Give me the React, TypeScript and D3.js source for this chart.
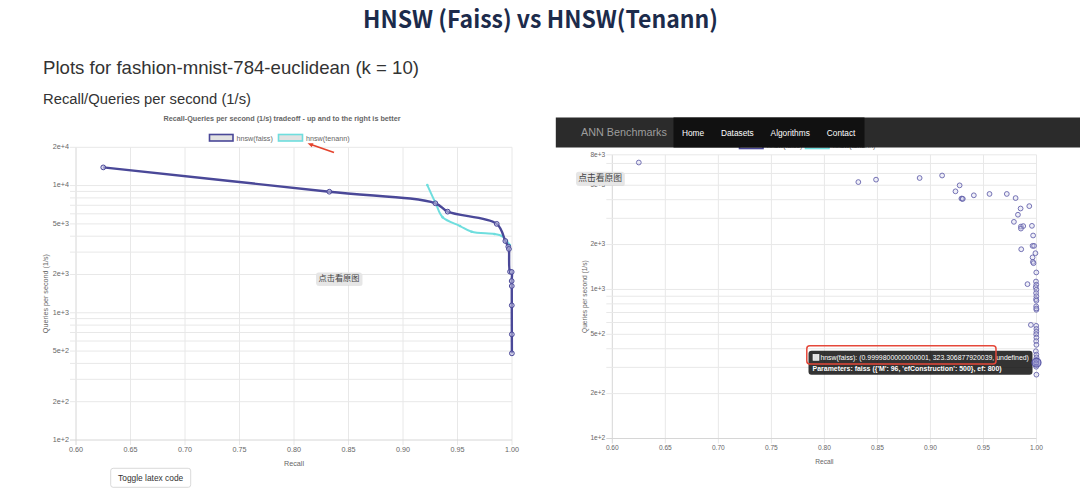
import React from "react";
import * as d3 from "d3";

const pageTitle = "HNSW (Faiss) vs HNSW(Tenann)";
const datasetHeading = "Plots for fashion-mnist-784-euclidean (k = 10)";
const sectionHeading = "Recall/Queries per second (1/s)";
const chartTitle = "Recall-Queries per second (1/s) tradeoff - up and to the right is better";
const seriesNames = ["hnsw(faiss)", "hnsw(tenann)"];
const xTickValues = [0.6, 0.65, 0.7, 0.75, 0.8, 0.85, 0.9, 0.95, 1.0];
const leftYLabeled = [20000, 10000, 5000, 2000, 1000, 500, 200, 100];
const rightYLabeled = [8000, 5000, 2000, 1000, 500, 200, 100];
const xAxisTitle = "Recall";
const yAxisTitle = "Queries per second (1/s)";
const navBrand = "ANN Benchmarks";
const navItems = ["Home", "Datasets", "Algorithms", "Contact"];
const viewButton = "点击看原图";
const toggleButton = "Toggle latex code";

// Left chart: Pareto frontier lines
const faissRecall = [0.625, 0.8324, 0.9297, 0.941, 0.986, 0.9939, 0.9966, 0.9972, 0.9982, 0.9997, 0.9997, 0.9998, 0.9998, 0.99985, 0.9999];
const faissQps = [13900, 8950, 7260, 6240, 5000, 3667, 3308, 3173, 2104, 2094, 1778, 1624, 1145, 677, 480];
const tenannRecall = [0.9223, 0.930, 0.9364, 0.9523, 0.963, 0.9838, 0.9906, 0.9952, 0.998];
const tenannQps = [10100, 7260, 5630, 4810, 4340, 4160, 4015, 3665, 3410];

// Right chart: all faiss runs (scatter)
const scatterRecall = [
  0.625, 0.832, 0.8487, 0.8898, 0.911, 0.9275, 0.9236, 0.9292, 0.93, 0.9305,
  0.9409, 0.9557, 0.972, 0.9803, 0.9932, 0.985, 0.9825, 0.9787, 0.9853, 0.9875,
  0.9853, 0.9957, 0.9968, 0.9963, 0.9977, 0.9856, 0.999, 0.9963, 0.9966, 0.9972,
  0.9998, 0.9915, 0.9995, 0.9998, 0.9993, 0.9999, 0.9996, 0.9999, 0.9996, 0.9999,
  0.9997, 0.9999, 0.9998, 0.9947, 0.9997, 0.9999, 0.9999, 0.9997, 0.9999, 0.9997,
  0.9999, 0.9994, 0.9999, 1.0, 0.9999, 0.9997, 0.9997, 0.9999,
];
const scatterQps = [
  7100, 5250, 5450, 5590, 5810, 4990, 4550, 4070, 4060, 4050,
  4280, 4370, 4370, 4100, 3620, 3490, 3170, 2840, 2640, 2660,
  2560, 2670, 2300, 1960, 1960, 1860, 1750, 1640, 1530, 1500,
  1300, 1085, 1130, 1075, 1035, 995, 945, 900, 860, 840,
  770, 730, 745, 578, 570, 543, 520, 500, 475, 450,
  425, 385, 365, 350, 335, 320, 303, 268,
];
const hoverRecall = 0.9999800000000001;
const hoverQps = 323.306877920039;
const tooltipLine1 = "hnsw(faiss): (0.9999800000000001, 323.306877920039, undefined)";
const tooltipLine2 = "Parameters: faiss ({'M': 96, 'efConstruction': 500}, ef: 800)";

const FAISS = "#4a4898";
const TENANN = "#6fdede";
const GRID = "#e8e8e8";
const TICK = "#666";
const SANS = "'Liberation Sans', Arial, Helvetica, sans-serif";
const CJK = "'Noto Sans CJK SC', sans-serif";
const fmt = d3.format(".0e");

function Axes({ x, y, labeled, fs, yTitleX }) {
  const [x0, x1] = x.range();
  const [yBot, yTop] = y.range();
  const minor = y.ticks();
  return (
    <g>
      {xTickValues.map((t) => (
        <line key={"v" + t} x1={x(t)} x2={x(t)} y1={yTop} y2={yBot + 5} stroke={t === xTickValues[0] ? "#d6d6d6" : GRID} strokeWidth={1} />
      ))}
      {minor.map((t) => (
        <line key={"h" + t} x1={x0 - 6} x2={x1} y1={y(t)} y2={y(t)} stroke={t === 100 ? "#d6d6d6" : GRID} strokeWidth={1} />
      ))}
      {xTickValues.map((t) => (
        <text key={"xl" + t} x={x(t)} y={yBot + 10} textAnchor="middle" dominantBaseline="middle" fontSize={fs} fill={TICK} fontFamily={SANS}>
          {t.toFixed(2)}
        </text>
      ))}
      {labeled.map((t) => (
        <text key={"yl" + t} x={x0 - 7} y={y(t)} textAnchor="end" dominantBaseline="middle" fontSize={fs} fill={TICK} fontFamily={SANS}>
          {fmt(t)}
        </text>
      ))}
      <text x={(x0 + x1) / 2} y={yBot + 24} textAnchor="middle" dominantBaseline="middle" fontSize={fs} fill={TICK} fontFamily={SANS}>
        {xAxisTitle}
      </text>
      <text transform={`translate(${yTitleX},${(yTop + yBot) / 2}) rotate(-90)`} textAnchor="middle" dominantBaseline="middle" fontSize={fs} fill={TICK} fontFamily={SANS}>
        {yAxisTitle}
      </text>
    </g>
  );
}

function ViewButton({ x, y, w, h, fs }) {
  return (
    <g>
      <rect x={x + 0.5} y={y + 1} width={w} height={h} rx={2.5} fill="#cfcfcf" opacity={0.5} />
      <rect x={x} y={y} width={w} height={h} rx={2.5} fill="#e6e6e6" />
      <text x={x + w / 2} y={y + h / 2 + 0.5} textAnchor="middle" dominantBaseline="middle" fontSize={fs} fill="#444" fontFamily={CJK}>
        {viewButton}
      </text>
    </g>
  );
}

export default function App() {
  // Left chart scales
  const lx = d3.scaleLinear().domain([0.6, 1.0]).range([76, 512]);
  const ly = d3.scaleLog().domain([100, 20000]).range([440, 147.3]);
  // Right chart scales
  const rx = d3.scaleLinear().domain([0.6, 1.0]).range([612.3, 1036.5]);
  const ry = d3.scaleLog().domain([100, 8000]).range([438.5, 154.8]);

  const line = d3
    .line<number>()
    .curve(d3.curveCatmullRom.alpha(0.5));

  const faissPts = faissRecall.map((r, i) => [lx(r), ly(faissQps[i])] as [number, number]);
  const tenannPts = tenannRecall.map((r, i) => [lx(r), ly(tenannQps[i])] as [number, number]);
  const lineGen = d3.line().curve(d3.curveCatmullRom.alpha(0.5));

  return (
    <div style={{ position: "absolute", left: 0, top: 0, width: 1080, height: 498, background: "#fff" }}>
      <svg width={1080} height={498} viewBox="0 0 1080 498" style={{ display: "block" }}>
        <rect width={1080} height={498} fill="#fff" />

        {/* Page title */}
        <text x={363} y={28} fontSize={24} fontWeight={700} fill="#1c2b4b" fontFamily={CJK} textLength={355} lengthAdjust="spacingAndGlyphs">
          {pageTitle}
        </text>

        {/* Headings */}
        <text x={43} y={74} fontSize={19} fill="#333" fontFamily={SANS} textLength={376} lengthAdjust="spacingAndGlyphs">
          {datasetHeading}
        </text>
        <text x={43} y={104} fontSize={15.5} fill="#333" fontFamily={SANS} textLength={208} lengthAdjust="spacingAndGlyphs">
          {sectionHeading}
        </text>

        {/* ---------- Left chart ---------- */}
        <text x={282} y={121} textAnchor="middle" fontSize={7.2} fontWeight={700} fill="#666" fontFamily={SANS} textLength={237} lengthAdjust="spacingAndGlyphs">
          {chartTitle}
        </text>
        {/* legend */}
        <rect x={209.5} y={134.5} width={23.5} height={6.5} fill="#e2e2e2" stroke={FAISS} strokeWidth={1.6} />
        <text x={236.5} y={140.5} fontSize={7.2} fill="#666" fontFamily={SANS}>{seriesNames[0]}</text>
        <rect x={278.5} y={134.5} width={24} height={6.5} fill="#e2e2e2" stroke={TENANN} strokeWidth={1.6} />
        <text x={306} y={140.5} fontSize={7.2} fill="#666" fontFamily={SANS}>{seriesNames[1]}</text>

        <Axes x={lx} y={ly} labeled={leftYLabeled} fs={7.2} yTitleX={46.5} />

        <path d={lineGen(tenannPts) || ""} fill="none" stroke={TENANN} strokeWidth={2} />
        {tenannPts.map((p, i) => (
          <circle key={"tp" + i} cx={p[0]} cy={p[1]} r={1.3} fill={TENANN} />
        ))}
        <path d={lineGen(faissPts) || ""} fill="none" stroke={FAISS} strokeWidth={2.4} />
        {faissPts.map((p, i) => (
          <circle key={"fp" + i} cx={p[0]} cy={p[1]} r={2.4} fill="rgba(190,190,225,0.6)" stroke={FAISS} strokeWidth={1} />
        ))}

        {/* red arrow */}
        <line x1={334} y1={152.5} x2={311} y2={144.5} stroke="#e4432d" strokeWidth={1.8} />
        <path d="M307.5,143.3 L313.5,143.2 L311.8,147.3 Z" fill="#e4432d" />

        <ViewButton x={316} y={272.5} w={46} h={12.5} fs={8.2} />

        {/* Toggle latex code */}
        <rect x={110.7} y={468.3} width={80} height={19} rx={2.5} fill="#fff" stroke="#cfcfcf" strokeWidth={0.8} />
        <text x={150.7} y={478.3} textAnchor="middle" dominantBaseline="middle" fontSize={8.4} fill="#333" fontFamily={SANS}>
          {toggleButton}
        </text>

        {/* ---------- Right chart ---------- */}
        {/* hidden legend below navbar */}
        <rect x={739.5} y={142} width={23.5} height={6.5} fill="#e2e2e2" stroke={FAISS} strokeWidth={1.6} />
        <text x={767} y={148} fontSize={7} fill="#666" fontFamily={SANS}>{seriesNames[0]}</text>
        <rect x={805.5} y={142} width={23.5} height={6.5} fill="#e2e2e2" stroke={TENANN} strokeWidth={1.6} />
        <text x={833} y={148} fontSize={7} fill="#666" fontFamily={SANS}>{seriesNames[1]}</text>

        <Axes x={rx} y={ry} labeled={rightYLabeled} fs={6.6} yTitleX={585} />

        {scatterRecall.map((r, i) => (
          <circle key={"sp" + i} cx={rx(r)} cy={ry(scatterQps[i])} r={2.4} fill="rgba(210,210,235,0.35)" stroke="#6664ad" strokeWidth={0.9} />
        ))}

        {/* navbar */}
        <rect x={555.8} y={117.5} width={524.2} height={30} fill="#2b2b2b" />
        <rect x={673.5} y={117.5} width={191} height={30} fill="#111" />
        <text x={581} y={136} fontSize={10.8} fill="#9d9d9d" fontFamily={SANS}>{navBrand}</text>
        {navItems.map((n, i) => (
          <text key={n} x={[682, 721, 770.6, 826.8][i]} y={135.5} fontSize={8.3} fill="#fff" fontFamily={SANS}>
            {n}
          </text>
        ))}

        <ViewButton x={576} y={171.7} w={48.3} h={13.3} fs={8.8} />

        {/* tooltip */}
        <rect x={808.5} y={350.8} width={224} height={24} rx={3} fill="rgba(0,0,0,0.8)" />
        <rect x={813} y={354.3} width={6} height={6} fill="#e2e2e2" stroke="#fff" strokeWidth={0.6} />
        <text x={820.4} y={360.3} fontSize={7.2} fill="#fff" fontFamily={SANS} textLength={208.5} lengthAdjust="spacingAndGlyphs">
          {tooltipLine1}
        </text>
        <text x={812.6} y={370.8} fontSize={7.2} fontWeight={700} fill="#fff" fontFamily={SANS} textLength={189} lengthAdjust="spacingAndGlyphs">
          {tooltipLine2}
        </text>
        <rect x={806.8} y={345.8} width={189.2} height={18.2} rx={3} fill="none" stroke="#e5483a" strokeWidth={1.5} />
        <circle cx={rx(hoverRecall)} cy={ry(hoverQps)} r={4.5} fill="rgba(120,118,190,0.6)" stroke="#5755a6" strokeWidth={1.2} />
      </svg>
    </div>
  );
}
